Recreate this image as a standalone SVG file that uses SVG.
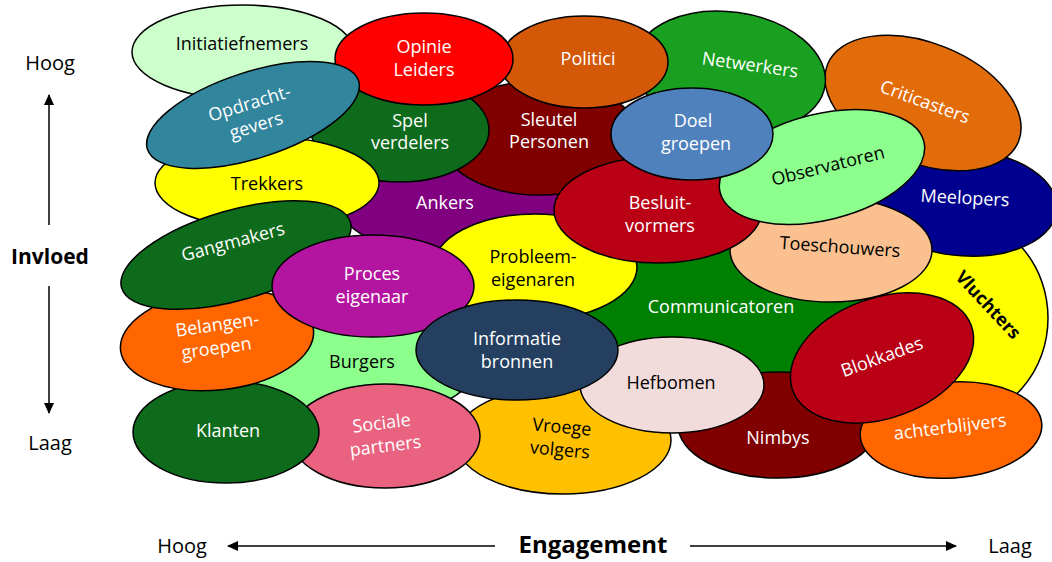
<svg xmlns="http://www.w3.org/2000/svg" width="1052" height="562" viewBox="0 0 1052 562">
<defs>
<style>
.n ellipse{stroke:#000;stroke-width:1.5}
text{font-family:"Open Sans","Liberation Sans",sans-serif;font-size:18px;text-anchor:middle}
.w{fill:#fff}
.b{fill:#000}
.ax{font-size:20px;fill:#000}
.axb{font-weight:bold;fill:#000}
.arr{stroke:#000;stroke-width:1.5;fill:none;marker-end:url(#ah)}
</style>
<marker id="ah" markerUnits="userSpaceOnUse" markerWidth="11" markerHeight="10" refX="10" refY="5" orient="auto">
<path d="M0,0 L11,5 L0,10 z" fill="#000"/>
</marker>
</defs>
<rect width="1052" height="562" fill="#fff"/>

<g id="ankers" class="n"><ellipse cx="455" cy="205" rx="115" ry="50" fill="#800080"/><text class="w" x="445" y="209">Ankers</text></g>
<g id="communicatoren" class="n"><ellipse cx="730" cy="320" rx="165" ry="90" fill="#008000"/><text class="w" x="721" y="313">Communicatoren</text></g>
<g id="vluchters" class="n"><ellipse cx="958" cy="318" rx="90" ry="100" fill="#ffff00"/><text class="b" x="988" y="311" font-weight="bold" transform="rotate(47 988 305)">Vluchters</text></g>
<g id="burgers" class="n"><ellipse cx="362" cy="368" rx="112" ry="50" fill="#8cff8c"/><text class="b" x="362" y="368">Burgers</text></g>
<g id="vroege-volgers" class="n"><ellipse cx="563" cy="440" rx="108" ry="54" fill="#ffc000"/><g transform="rotate(5 561 438)"><text class="b" x="561" y="433">Vroege</text><text class="b" x="561" y="456">volgers</text></g></g>
<g id="nimbys" class="n"><ellipse cx="778" cy="425" rx="100" ry="53" fill="#800000"/><text class="w" x="778" y="444">Nimbys</text></g>
<g id="achterblijvers" class="n"><ellipse cx="951" cy="430" rx="91" ry="48" fill="#ff6600" transform="rotate(-4 951 430)"/><text class="w" x="950" y="433" transform="rotate(-7 950 427)">achterblijvers</text></g>
<g id="meelopers" class="n"><ellipse cx="965" cy="203" rx="92" ry="53" fill="#000090" transform="rotate(4 965 203)"/><text class="w" x="965" y="204" transform="rotate(3 965 198)">Meelopers</text></g>
<g id="criticasters" class="n"><ellipse cx="923" cy="103" rx="103" ry="60" fill="#e36c0a" transform="rotate(22 923 103)"/><text class="w" x="925" y="108" transform="rotate(20 925 102)">Criticasters</text></g>
<g id="netwerkers" class="n"><ellipse cx="730" cy="72" rx="96" ry="60" fill="#19a020" transform="rotate(8 730 72)"/><text class="w" x="750" y="71" transform="rotate(8 750 65)">Netwerkers</text></g>
<g id="initiatiefnemers" class="n"><ellipse cx="243" cy="52" rx="111" ry="47" fill="#ccffcc"/><text class="b" x="242" y="50">Initiatiefnemers</text></g>
<g id="sleutel-personen" class="n"><ellipse cx="540" cy="138" rx="100" ry="57" fill="#800000"/><text class="w" x="549" y="126">Sleutel</text><text class="w" x="549" y="148">Personen</text></g>
<g id="politici" class="n"><ellipse cx="584" cy="62" rx="84" ry="46" fill="#d35807"/><text class="w" x="588" y="65">Politici</text></g>
<g id="spel-verdelers" class="n"><ellipse cx="400" cy="130" rx="89" ry="52" fill="#0f6b1c"/><text class="w" x="410" y="127">Spel</text><text class="w" x="410" y="149">verdelers</text></g>
<g id="opinie-leiders" class="n"><ellipse cx="424" cy="59" rx="89" ry="46" fill="#ff0000"/><text class="w" x="424" y="53">Opinie</text><text class="w" x="424" y="76">Leiders</text></g>
<g id="trekkers" class="n"><ellipse cx="267" cy="183" rx="112" ry="46" fill="#ffff00"/><text class="b" x="267" y="190">Trekkers</text></g>
<g id="opdrachtgevers" class="n"><ellipse cx="253" cy="115" rx="111" ry="43" fill="#31859c" transform="rotate(-18 253 115)"/><g transform="rotate(-17 253 115)"><text class="w" x="253" y="109">Opdracht-</text><text class="w" x="253" y="132">gevers</text></g></g>
<g id="toeschouwers" class="n"><ellipse cx="831" cy="250" rx="101" ry="52" fill="#fac090"/><text class="b" x="840" y="253" transform="rotate(4 840 247)">Toeschouwers</text></g>
<g id="probleemeigenaren" class="n"><ellipse cx="535" cy="267" rx="102" ry="53" fill="#ffff00"/><text class="b" x="533" y="263">Probleem-</text><text class="b" x="533" y="286">eigenaren</text></g>
<g id="besluitvormers" class="n"><ellipse cx="658" cy="210" rx="104" ry="53" fill="#b90015"/><text class="w" x="660" y="209">Besluit-</text><text class="w" x="660" y="232">vormers</text></g>
<g id="observatoren" class="n"><ellipse cx="822" cy="167" rx="105" ry="53" fill="#8cff8c" transform="rotate(-14 822 167)"/><text class="b" x="828" y="172" transform="rotate(-14 828 166)">Observatoren</text></g>
<g id="doel-groepen" class="n"><ellipse cx="692" cy="134" rx="81" ry="46" fill="#4f81bd"/><text class="w" x="693" y="127">Doel</text><text class="w" x="696" y="150">groepen</text></g>
<g id="sociale-partners" class="n"><ellipse cx="385" cy="436" rx="95" ry="52" fill="#e96380"/><g transform="rotate(-7 384 435)"><text class="w" x="383" y="429">Sociale</text><text class="w" x="384" y="452">partners</text></g></g>
<g id="klanten" class="n"><ellipse cx="226" cy="432" rx="93" ry="51" fill="#0f6b1c"/><text class="w" x="228" y="437">Klanten</text></g>
<g id="belangengroepen" class="n"><ellipse cx="217" cy="340" rx="97" ry="50" fill="#ff6600" transform="rotate(-6 217 340)"/><g transform="rotate(-8 217 337)"><text class="w" x="219" y="331">Belangen-</text><text class="w" x="215" y="354">groepen</text></g></g>
<g id="gangmakers" class="n"><ellipse cx="236" cy="255" rx="119" ry="45" fill="#0f6b1c" transform="rotate(-16 236 255)"/><text class="w" x="233" y="248" transform="rotate(-15 233 242)">Gangmakers</text></g>
<g id="proces-eigenaar" class="n"><ellipse cx="373" cy="286" rx="101" ry="51" fill="#b415a0"/><text class="w" x="372" y="280">Proces</text><text class="w" x="372" y="303">eigenaar</text></g>
<g id="hefbomen" class="n"><ellipse cx="672" cy="385" rx="92" ry="48" fill="#f2dcdb"/><text class="b" x="671" y="389">Hefbomen</text></g>
<g id="informatie-bronnen" class="n"><ellipse cx="517" cy="350" rx="101" ry="50" fill="#243f60"/><text class="w" x="517" y="345">Informatie</text><text class="w" x="517" y="368">bronnen</text></g>
<g id="blokkades" class="n"><ellipse cx="882" cy="358" rx="95" ry="60" fill="#b90015" transform="rotate(-20 882 358)"/><text class="w" x="882" y="363" transform="rotate(-20 882 357)">Blokkades</text></g>

<g id="axes">
<text class="ax" x="50" y="70">Hoog</text>
<text class="ax axb" x="50" y="264" style="font-size:21px">Invloed</text>
<text class="ax" x="50" y="450">Laag</text>
<text class="ax" x="182" y="553">Hoog</text>
<text class="ax axb" x="593" y="553" style="font-size:24px">Engagement</text>
<text class="ax" x="1010" y="553">Laag</text>
</g>
<g id="connectors">
<line class="arr" x1="49" y1="225" x2="49" y2="95"/>
<line class="arr" x1="49" y1="286" x2="49" y2="413"/>
<line class="arr" x1="495" y1="546" x2="228" y2="546"/>
<line class="arr" x1="690" y1="546" x2="956" y2="546"/>
</g>
</svg>
